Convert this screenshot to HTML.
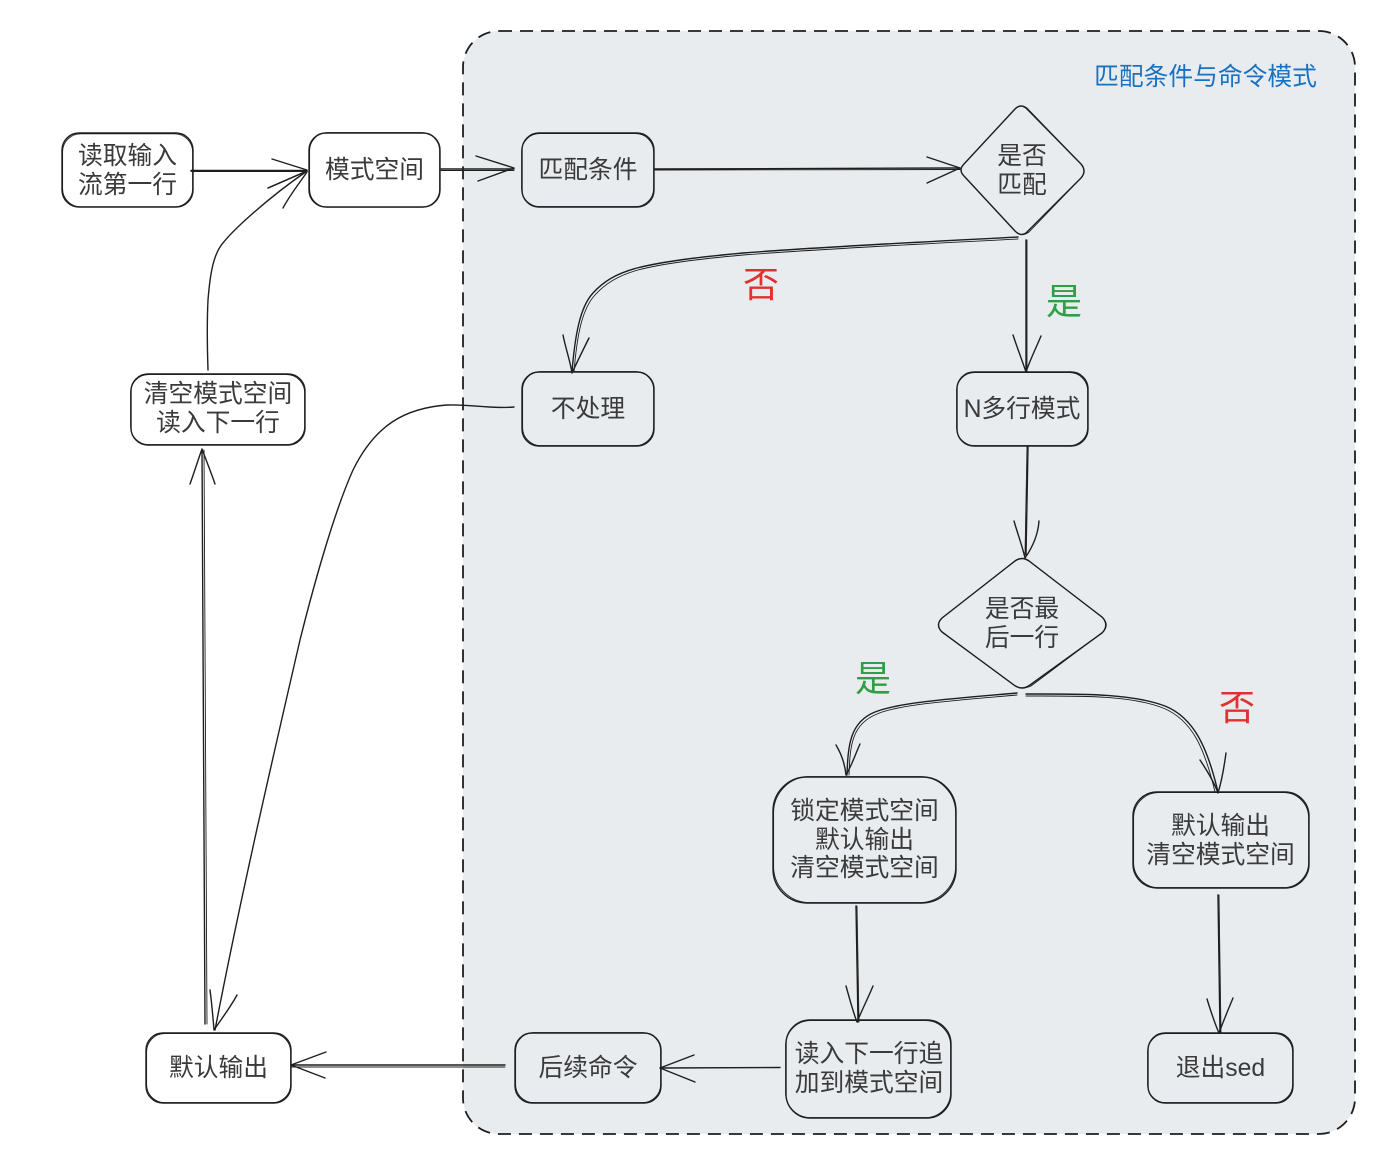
<!DOCTYPE html>
<html><head><meta charset="utf-8">
<style>
html,body{margin:0;padding:0;background:#fff;width:1391px;height:1155px;overflow:hidden}
svg{display:block}
text{font-family:"Liberation Sans","Noto Sans CJK SC",sans-serif;font-size:24.75px;fill:#3a3a3a;text-anchor:middle}
.b{fill:none;stroke:#1e1e1e;stroke-width:1.4;stroke-linecap:round;stroke-linejoin:round}
.t{fill:none;stroke:#1e1e1e;stroke-width:.9;stroke-linecap:round;stroke-linejoin:round}
</style></head><body>
<svg width="1391" height="1155" viewBox="0 0 1391 1155" xmlns="http://www.w3.org/2000/svg">
<rect x="463" y="31" width="892" height="1103" rx="36" fill="#e9ecef"/>
<rect x="463" y="31" width="892" height="1103" rx="36" fill="none" stroke="#1e1e1e" stroke-width="1.8" stroke-dasharray="13 8"/>

<!-- boxes -->
<g class="b">
<rect x="62" y="133" width="131" height="74" rx="17"/>
<rect x="309" y="133" width="131" height="74" rx="17"/>
<rect x="522" y="133" width="132" height="74" rx="17"/>
<rect x="522" y="372" width="132" height="74" rx="17"/>
<rect x="957" y="372" width="131" height="74" rx="17"/>
<rect x="131" y="374" width="174" height="71" rx="17"/>
<rect x="773" y="777" width="183" height="126" rx="34"/>
<rect x="1133" y="792" width="176" height="96" rx="24"/>
<rect x="1148" y="1033" width="145" height="70" rx="17"/>
<rect x="786" y="1020" width="165" height="98" rx="24"/>
<rect x="515" y="1033" width="146" height="70" rx="17"/>
<rect x="146" y="1033" width="145" height="70" rx="17"/>
<path d="M1015 109Q1021 103 1027 109L1081 164Q1087 171 1081 178L1028 231Q1022 238 1015 231L964 176Q958 170 964 164Z"/>
<path d="M1015 561Q1022 556 1029 561L1102 617Q1110 625 1102 633L1030 685Q1022 691 1014 685L942 632Q935 625 942 618Z"/>
</g>
<g class="t">
<rect x="62.600" y="133.800" width="130" height="73" rx="18"/>
<rect x="309.600" y="132.600" width="130" height="74.600" rx="18"/>
<rect x="521.600" y="133.600" width="132" height="73" rx="18"/>
<rect x="522.600" y="371.600" width="131" height="74" rx="18"/>
<rect x="956.600" y="372.600" width="131" height="73" rx="18"/>
<rect x="130.600" y="374.600" width="174" height="70" rx="18"/>
<rect x="773.600" y="776.600" width="182" height="126" rx="36"/>
<rect x="1133.600" y="792.600" width="175" height="95" rx="25"/>
<rect x="1147.600" y="1033.600" width="145" height="69" rx="18"/>
<rect x="785.600" y="1020.600" width="165" height="97" rx="25"/>
<rect x="515.600" y="1032.600" width="145" height="70" rx="18"/>
<rect x="146.600" y="1033.600" width="144" height="69" rx="18"/>
<path d="M1016 108Q1021 104 1027 108L1082 165Q1086 171 1082 177L1029 232Q1022 237 1016 232L963 175Q959 170 963 165Z"/>
<path d="M1016 560Q1022 557 1028 560L1103 618Q1108 625 1103 632L1031 686Q1022 690 1015 686L941 631Q936 625 941 619Z"/>
</g>

<!-- connectors -->
<g class="b">
<path d="M191 170.500H307"/>
<path d="M272 159L307 170M268 188L307 171"/>
<path d="M441 169H514"/>
<path d="M476 156L514 168L478 181"/>
<path d="M655 169L960 168"/>
<path d="M927 157L960 168L927 183"/>
<path d="M1018 237C920 242 820 247 743 253C700 257 665 261 637 268C615 274 603 282 593 293C580 307 575 335 572 372"/>
<path d="M563 335C566 350 570 360 572 373C578 360 583 350 589 338"/>
<path d="M1026 240V372"/>
<path d="M1013 335C1018 350 1022 360 1026 372C1030 360 1036 348 1041 336"/>
<path d="M1028 447L1026 555"/>
<path d="M1014 521C1018 535 1022 545 1025 558C1032 548 1038 535 1039 521"/>
<path d="M1017 693C960 698 900 702 875 712C850 722 848 745 847 775"/>
<path d="M836 745C842 755 845 765 846 775C852 765 855 755 860 744"/>
<path d="M1026 694C1080 694 1130 693 1165 706C1195 718 1208 750 1218 792"/>
<path d="M1200 760C1208 772 1214 782 1218 793C1222 780 1224 768 1226 753"/>
<path d="M856 906L858 1022"/>
<path d="M846 986C850 1000 853 1012 857 1022C862 1010 868 998 873 986"/>
<path d="M1218 895L1220 1033"/>
<path d="M1207 999C1211 1012 1215 1024 1219 1033C1223 1022 1228 1010 1233 998"/>
<path d="M780 1067.500L660 1068"/>
<path d="M694 1055L660 1068L695 1082"/>
<path d="M505 1065H291"/>
<path d="M326 1052L291 1065L325 1078"/>
<path d="M514 407C490 409 470 404 447 405C405 408 375 425 353 470C335 510 315 580 300 640C270 770 240 900 215 1030"/>
<path d="M210 990C212 1005 213 1018 214 1030C222 1018 230 1008 237 995"/>
<path d="M202 450L205 1024"/>
<path d="M190 484C195 470 198 460 202 449C206 460 211 472 215 484"/>
<path d="M208 370C207 340 207 320 208 300C210 275 213 258 220 247C230 232 268 198 307 171"/>
<path d="M268 188L307 171M283 208C290 195 298 185 307 172"/>
</g>
<g class="t">
<path d="M191 171.500H307"/>
<path d="M441 170.500H514"/>
<path d="M655 170L960 169.500"/>
<path d="M1018 239C920 244 820 249 743 255C700 259 665 263 638 270C617 276 605 284 595 295C582 309 577 335 574 372"/>
<path d="M1017 695C960 700 900 704 877 714C852 724 850 745 849 775"/>
<path d="M1026 696C1080 696 1130 695 1163 708C1193 720 1205 750 1215 792"/>
<path d="M505 1067H291"/>
<path d="M1219 895L1221 1033"/>
<path d="M857 906L859 1022"/>
<path d="M204 450L207 1024"/>
<path d="M1027 447L1025 555"/>
<path d="M1027 240V372"/>
</g>

<!-- labels -->
<text x="1205.500" y="85" style="fill:#1971c2">匹配条件与命令模式</text>
<text x="127.500" y="164">读取输入</text>
<text x="127.500" y="193">流第一行</text>
<text x="374.500" y="178">模式空间</text>
<text x="588" y="178">匹配条件</text>
<text x="1022" y="164">是否</text>
<text x="1022" y="193">匹配</text>
<text x="588" y="417">不处理</text>
<text x="1022" y="417">N多行模式</text>
<text x="218" y="402">清空模式空间</text>
<text x="218" y="431">读入下一行</text>
<text x="1022" y="617">是否最</text>
<text x="1022" y="646">后一行</text>
<text x="864.500" y="819">锁定模式空间</text>
<text x="864.500" y="848">默认输出</text>
<text x="864.500" y="876">清空模式空间</text>
<text x="1220.500" y="834">默认输出</text>
<text x="1220.500" y="863">清空模式空间</text>
<text x="1220.500" y="1076">退出sed</text>
<text x="869" y="1062">读入下一行追</text>
<text x="869" y="1091">加到模式空间</text>
<text x="588" y="1076">后续命令</text>
<text x="218.500" y="1076">默认输出</text>
<text x="761" y="297" style="font-size:36px;fill:#e03131">否</text>
<text x="1064" y="314" style="font-size:36px;fill:#2f9e44">是</text>
<text x="873" y="691" style="font-size:36px;fill:#2f9e44">是</text>
<text x="1237" y="720" style="font-size:36px;fill:#e03131">否</text>
</svg>
</body></html>
